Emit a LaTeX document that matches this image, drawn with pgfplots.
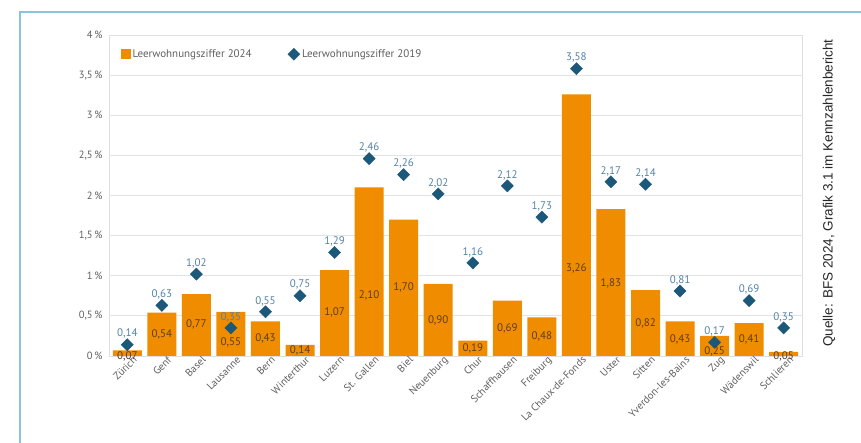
\documentclass[border=0pt]{standalone}
\usepackage{pgfplots}
\pgfplotsset{compat=1.18}
\usepackage{pgfplotstable}
\usepackage{fontspec}
\setmainfont{PT Sans}
\newfontfamily\srcfont{Liberation Sans}
\definecolor{barorange}{RGB}{240,140,0}
\definecolor{diamblue}{RGB}{28,88,122}
\definecolor{lblblue}{RGB}{80,130,168}
\definecolor{lblbrown}{RGB}{90,62,25}
\definecolor{frameblue}{RGB}{140,195,220}
\definecolor{tickgray}{RGB}{95,95,95}
\pgfplotstableread{
x v24 v19 ly l24 l19
0 0.07 0.14 0.00 0,07 0,14
1 0.54 0.63 0.27 0,54 0,63
2 0.77 1.02 0.39 0,77 1,02
3 0.55 0.35 0.17 0,55 0,35
4 0.43 0.55 0.22 0,43 0,55
5 0.14 0.75 0.07 0,14 0,75
6 1.07 1.29 0.54 1,07 1,29
7 2.10 2.46 0.75 2,10 2,46
8 1.70 2.26 0.86 1,70 2,26
9 0.90 2.02 0.44 0,90 2,02
10 0.19 1.16 0.10 0,19 1,16
11 0.69 2.12 0.34 0,69 2,12
12 0.48 1.73 0.24 0,48 1,73
13 3.26 3.58 1.09 3,26 3,58
14 1.83 2.17 0.90 1,83 2,17
15 0.82 2.14 0.40 0,82 2,14
16 0.43 0.81 0.21 0,43 0,81
17 0.25 0.17 0.06 0,25 0,17
18 0.41 0.69 0.21 0,41 0,69
19 0.05 0.35 0.00 0,05 0,35
}\datatable
\begin{document}
\begin{tikzpicture}[x=1pt,y=1pt]
\path[use as bounding box] (0,0) rectangle (861,443);
\draw[frameblue, line width=2pt] (20,-2) -- (20,431) -- (863,431);
\begin{axis}[
  at={(109pt,87pt)}, anchor=south west,
  scale only axis, width=693pt, height=321pt,
  xmin=-0.53, xmax=19.53, ymin=0, ymax=4,
  xtick={0,...,19},
  xticklabels={Zürich,Genf,Basel,Lausanne,Bern,Winterthur,Luzern,St. Gallen,Biel,Neuenburg,Chur,Schaffhausen,Freiburg,La Chaux-de-Fonds,Uster,Sitten,Yverdon-les-Bains,Zug,Wädenswil,Schlieren},
  xticklabel style={rotate=45, anchor=north east, font=\fontsize{10.5}{11}\selectfont, text=tickgray, inner sep=1pt, xshift=5pt, yshift=-2pt},
  ytick={0,0.5,1,1.5,2,2.5,3,3.5,4},
  yticklabels={{0\,\%},{0,5\,\%},{1\,\%},{1,5\,\%},{2\,\%},{2,5\,\%},{3\,\%},{3,5\,\%},{4\,\%}},
  yticklabel style={font=\fontsize{10.5}{11}\selectfont, text=tickgray, xshift=-3pt},
  major tick length=0pt,
  ymajorgrids, grid style={draw=gray!22, line width=0.8pt},
  axis line style={draw=gray!25, line width=0.8pt},
  legend style={at={(0.012,0.94)}, anchor=west, draw=none, fill=none,
    font=\fontsize{11}{12}\selectfont, text=tickgray, legend columns=2,
    /tikz/every even column/.append style={column sep=34pt}},
  legend cell align=left,
  clip=false,
]
\addplot[ybar, bar width=29pt, fill=barorange, draw=none,
  legend image code/.code={\fill[barorange] (0pt,-5pt) rectangle (10pt,5pt);}] table[x=x, y=v24] {\datatable};
\addlegendentry{Leerwohnungsziffer 2024}
\addplot[only marks, mark=square*, mark size=4.3pt, mark options={rotate=45, fill=diamblue, draw=diamblue},
  legend image code/.code={\fill[diamblue] (0pt,6pt) -- (6pt,0pt) -- (0pt,-6pt) -- (-6pt,0pt) -- cycle;},
  nodes near coords, point meta=explicit symbolic,
  nodes near coords style={anchor=south, yshift=5pt, inner sep=1pt, text=lblblue, font=\fontsize{11}{12}\selectfont}]
  table[x=x, y=v19, meta=l19] {\datatable};
\addlegendentry{Leerwohnungsziffer 2019}
\addplot[draw=none, mark=none, forget plot, nodes near coords, point meta=explicit symbolic,
  nodes near coords style={anchor=center, inner sep=1pt, text=lblbrown, font=\fontsize{11}{12}\selectfont}]
  table[x=x, y=ly, meta=l24] {\datatable};
\end{axis}
\node[rotate=90, font=\srcfont\fontsize{13.5}{14}\selectfont, text=black!85] at (829,250) {Quelle: BFS 2024, Grafik 3.1 im Kennzahlenbericht};
\end{tikzpicture}
\end{document}
